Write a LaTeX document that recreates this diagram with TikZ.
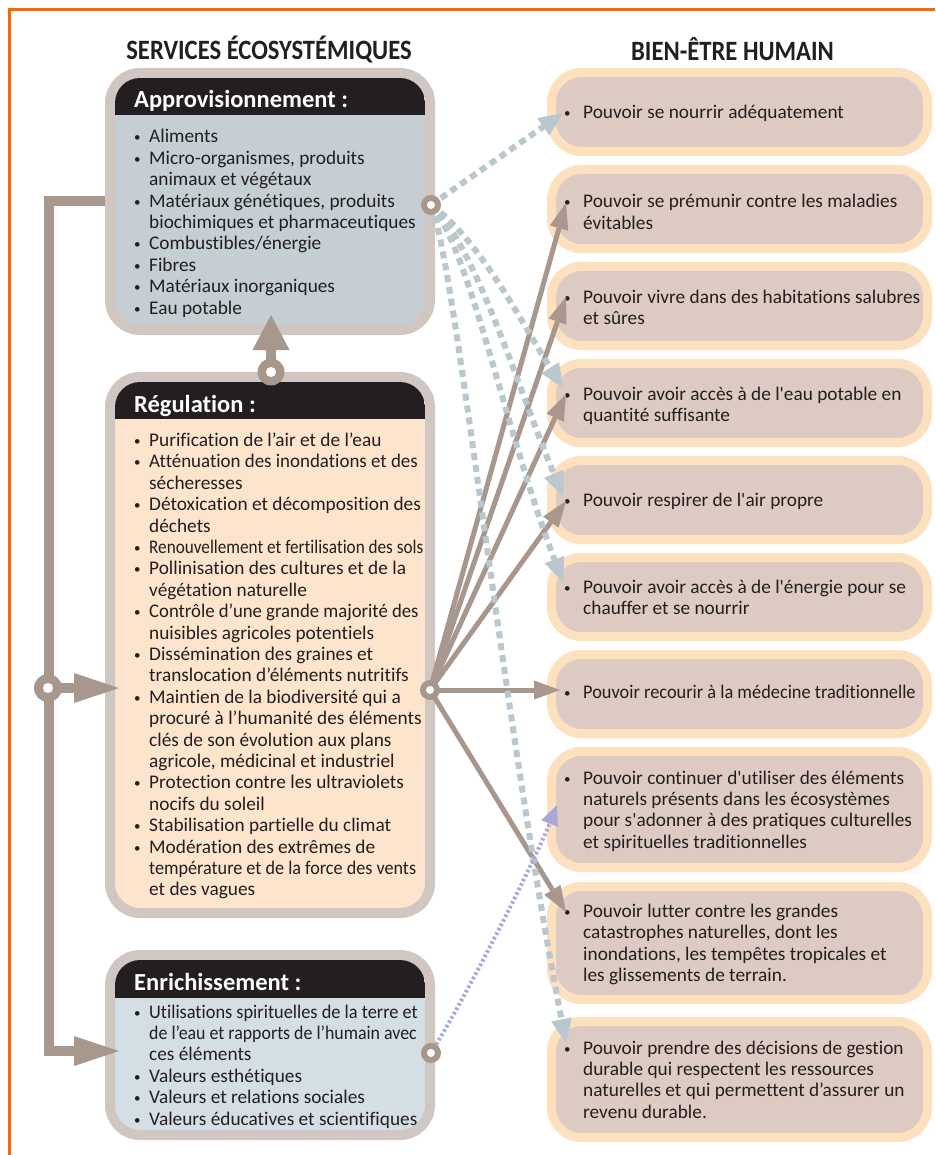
\documentclass[tikz,border=0pt]{standalone}
\usepackage{fontspec}
\usepackage{graphicx}
\usetikzlibrary{arrows.meta}
\newfontfamily\cf{Carlito}[Ligatures=NoCommon]
\definecolor{ink}{RGB}{35,31,32}
\definecolor{lbord}{RGB}{208,199,194}
\definecolor{appbody}{RGB}{196,206,211}
\definecolor{regbody}{RGB}{253,228,205}
\definecolor{enrbody}{RGB}{212,222,229}
\definecolor{hdr}{RGB}{35,31,32}
\definecolor{rbord}{RGB}{253,224,190}
\definecolor{rfill}{RGB}{221,202,194}
\definecolor{conn}{RGB}{168,151,140}
\definecolor{dsh}{RGB}{186,199,205}
\definecolor{lav}{RGB}{168,168,218}
\definecolor{framecol}{RGB}{255,102,0}
\newcommand{\mybul}{\makebox[16pt][l]{\hspace{1pt}\raisebox{1pt}{\fontsize{13}{13}\selectfont •}}}
\newcommand{\myind}{\hspace*{16pt}}
\newcommand{\mybulR}{\makebox[20pt][l]{\hspace{1pt}\raisebox{1pt}{\fontsize{13}{13}\selectfont •}}}
\newcommand{\myindR}{\hspace*{20pt}}
\newcommand{\hsq}[2]{\scalebox{#1}[1]{#2}}
\newcommand{\txtlines}[1]{\parbox[t]{440pt}{\raggedright\cf\fontsize{19.3}{21.4}\selectfont #1}}
\begin{document}
\begin{tikzpicture}[x=1pt,y=-1pt,
  lbox/.style={draw=lbord, line width=10pt, rounded corners=30pt, inner sep=0pt, minimum width=320pt},
  rbox/.style={draw=rbord, fill=rfill, line width=9pt, rounded corners=30pt, inner sep=0pt, minimum width=376pt},
  band/.style={fill=hdr},
  ttl/.style={anchor=base west, inner sep=0pt, text=white, font=\cf\bfseries\fontsize{24.5}{24.5}\selectfont},
  hd/.style={anchor=base, inner sep=0pt, text=ink, font=\cf\bfseries\fontsize{28}{28}\selectfont},
  txt/.style={anchor=base west, inner sep=0pt, text=ink},
  bigconn/.style={draw=conn, line width=10pt},
  bigtip/.style={-{Triangle[length=45pt,width=30pt,line width=0pt]}},
  uptip/.style={-{Triangle[length=35pt,width=37pt,line width=0pt]}},
  sarr/.style={draw=conn, line width=5pt, -{Triangle[length=26pt,width=19pt,line width=0pt]}},
  darr/.style={draw=dsh, line width=6pt, dash pattern=on 7pt off 5pt, -{Triangle[length=24pt,width=21pt,line width=0pt]}},
  larr/.style={draw=lav, line width=4pt, dash pattern=on 2.5pt off 2.5pt, -{Triangle[length=20pt,width=18pt,line width=0pt]}},
  ring/.style={circle, fill=conn, inner sep=0pt},
]
\useasboundingbox (0,0) rectangle (935,1155);
\fill[white] (0,0) rectangle (935,1155);
% frame
\draw[draw=framecol, line width=3pt] (935,9.5) -- (9.5,9.5) -- (9.5,1155);
% headers
\node[hd] (hL) at (269,60) {\hsq{0.88}{SERVICES ÉCOSYSTÉMIQUES}};
\node[hd] (hR) at (732.5,61) {\hsq{0.88}{BIEN-ÊTRE HUMAIN}};

% left boxes
\node[lbox, fill=appbody, minimum height=257pt] (app) at (270,201.5) {};
\node[lbox, fill=regbody, minimum height=536pt] (reg) at (270,645) {};
\node[lbox, fill=enrbody, minimum height=180pt] (enr) at (270,1045) {};
\begin{scope}
\clip[rounded corners=25pt] (115,78) rectangle (425,325);
\fill[band] (115,78) rectangle (425,115);
\end{scope}
\begin{scope}
\clip[rounded corners=25pt] (115,382) rectangle (425,908);
\fill[band] (115,382) rectangle (425,419);
\end{scope}
\begin{scope}
\clip[rounded corners=25pt] (115,960) rectangle (425,1130);
\fill[band] (115,960) rectangle (425,998);
\end{scope}
\node[ttl] (appT) at (134,108) {Approvisionnement :};
\node[ttl] (regT) at (134,412) {Régulation :};
\node[ttl] (enrT) at (134,990) {Enrichissement :};

\node[txt] (appB) at (133,143) {\txtlines{\mybul Aliments\\
\mybul Micro-organismes, produits\\
\myind animaux et végétaux\\
\mybul Matériaux génétiques, produits\\
\myind biochimiques et pharmaceutiques\\
\mybul Combustibles/énergie\\
\mybul Fibres\\
\mybul Matériaux inorganiques\\
\mybul Eau potable}};

\node[txt] (regB) at (133,446.5) {\txtlines{\mybul Purification de l’air et de l’eau\\
\mybul \hsq{0.98}{Atténuation des inondations et des}\\
\myind sécheresses\\
\mybul Détoxication et décomposition des\\
\myind déchets\\
\mybul \hsq{0.89}{Renouvellement et fertilisation des sols}\\
\mybul Pollinisation des cultures et de la\\
\myind végétation naturelle\\
\mybul \hsq{0.97}{Contrôle d’une grande majorité des}\\
\myind nuisibles agricoles potentiels\\
\mybul Dissémination des graines et\\
\myind translocation d’éléments nutritifs\\
\mybul Maintien de la biodiversité qui a\\
\myind procuré à l’humanité des éléments\\
\myind clés de son évolution aux plans\\
\myind agricole, médicinal et industriel\\
\mybul Protection contre les ultraviolets\\
\myind nocifs du soleil\\
\mybul Stabilisation partielle du climat\\
\mybul Modération des extrêmes de\\
\myind \hsq{0.94}{température et de la force des vents}\\
\myind et des vagues}};

\node[txt] (enrB) at (133,1018) {\txtlines{\mybul \hsq{0.95}{Utilisations spirituelles de la terre et}\\
\myind \hsq{0.925}{de l’eau et rapports de l’humain avec}\\
\myind ces éléments\\
\mybul Valeurs esthétiques\\
\mybul Valeurs et relations sociales\\
\mybul Valeurs éducatives et scientifiques}};

% right boxes
\node[rbox, minimum height=79pt] (b1) at (739.5,112) {};
\node[rbox, minimum height=79pt] (b2) at (739.5,209) {};
\node[rbox, minimum height=79pt] (b3) at (739.5,306) {};
\node[rbox, minimum height=79pt] (b4) at (739.5,403) {};
\node[rbox, minimum height=79pt] (b5) at (739.5,500) {};
\node[rbox, minimum height=79pt] (b6) at (739.5,597) {};
\node[rbox, minimum height=79pt] (b7) at (739.5,694) {};
\node[rbox, minimum height=116pt] (b8) at (739.5,809.5) {};
\node[rbox, minimum height=113pt] (b9) at (739.5,943) {};
\node[rbox, minimum height=116pt] (b10) at (739.5,1079.5) {};

\node[txt] (b1t) at (563,118.5) {\txtlines{\mybulR Pouvoir se nourrir adéquatement}};
\node[txt] (b2t) at (563,208) {\txtlines{\mybulR Pouvoir se prémunir contre les maladies\\
\myindR évitables}};
\node[txt] (b3t) at (563,303) {\txtlines{\mybulR Pouvoir vivre dans des habitations salubres\\
\myindR et sûres}};
\node[txt] (b4t) at (563,400) {\txtlines{\mybulR Pouvoir avoir accès à de l'eau potable en\\
\myindR quantité suffisante}};
\node[txt] (b5t) at (563,506.5) {\txtlines{\mybulR Pouvoir respirer de l'air propre}};
\node[txt] (b6t) at (563,593) {\txtlines{\mybulR Pouvoir avoir accès à de l'énergie pour se\\
\myindR chauffer et se nourrir}};
\node[txt] (b7t) at (563,698) {\txtlines{\mybulR \hsq{0.95}{Pouvoir recourir à la médecine traditionnelle}}};
\node[txt] (b8t) at (563,784) {\txtlines{\mybulR Pouvoir continuer d'utiliser des éléments\\
\myindR naturels présents dans les écosystèmes\\
\myindR pour s'adonner à des pratiques culturelles\\
\myindR et spirituelles traditionnelles}};
\node[txt] (b9t) at (563,917.5) {\txtlines{\mybulR Pouvoir lutter contre les grandes\\
\myindR catastrophes naturelles, dont les\\
\myindR inondations, les tempêtes tropicales et\\
\myindR les glissements de terrain.}};
\node[txt] (b10t) at (563,1054) {\txtlines{\mybulR Pouvoir prendre des décisions de gestion\\
\myindR durable qui respectent les ressources\\
\myindR naturelles et qui permettent d’assurer un\\
\myindR revenu durable.}};

% coordinates
\coordinate (rA) at (431,205);
\coordinate (rR) at (430,690);
\coordinate (rE) at (431,1053);
\coordinate (rT) at (271,372);
\coordinate (rM) at (48,688);
\coordinate (ct) at (49,201.5);
\coordinate (cb) at (49,1051);
\coordinate (eA) at (119,1051);
\coordinate (mA) at (119,688);
\coordinate (aT) at (271,315);
\coordinate (t2) at (566,203);
\coordinate (t3) at (566,297);
\coordinate (t4) at (566,394);
\coordinate (t5) at (566,501);
\coordinate (t7) at (560,690);
\coordinate (t9) at (566,912);
\coordinate (d1) at (563,113);
\coordinate (d4) at (563,388);
\coordinate (d5) at (563,496);
\coordinate (d6) at (563,582);
\coordinate (d10) at (566,1043);
\coordinate (dl) at (557,805);

% left connectors
\draw[bigconn, bigtip] (app.west) -- (ct) -- (cb) -- (eA);
\draw[bigconn, bigtip] (rM) -- (mA);
\draw[bigconn, uptip] (rT) -- (aT);

% solid arrows
\draw[sarr] (rR) -- (t2);
\draw[sarr] (rR) -- (t3);
\draw[sarr] (rR) -- (t4);
\draw[sarr] (rR) -- (t5);
\draw[sarr] (rR) -- (t7);
\draw[sarr] (rR) -- (t9);

% dashed arrows
\draw[darr] (rA) -- (d1);
\draw[darr] (rA) .. controls (480,240) and (520,320) .. (d4);
\draw[darr] (rA) .. controls (475,245) and (515,380) .. (d5);
\draw[darr] (rA) .. controls (470,250) and (505,430) .. (d6);
\draw[darr] (rA) .. controls (455,260) and (500,700) .. (d10);
\draw[larr] (rE) .. controls (470,990) and (535,860) .. (dl);

% rings
\node[ring, minimum size=20pt] (ringA) at (rA) {};
\node[ring, minimum size=20pt] (ringR) at (rR) {};
\node[ring, minimum size=20pt] (ringE) at (rE) {};
\node[ring, minimum size=27pt] (ringT) at (rT) {};
\node[ring, minimum size=28pt] (ringM) at (rM) {};
\fill[white] (ringA.center) circle[radius=4pt];
\fill[white] (ringR.center) circle[radius=4pt];
\fill[white] (ringE.center) circle[radius=4pt];
\fill[white] (ringT.center) circle[radius=5pt];
\fill[white] (ringM.center) circle[radius=5pt];
\end{tikzpicture}
\end{document}
